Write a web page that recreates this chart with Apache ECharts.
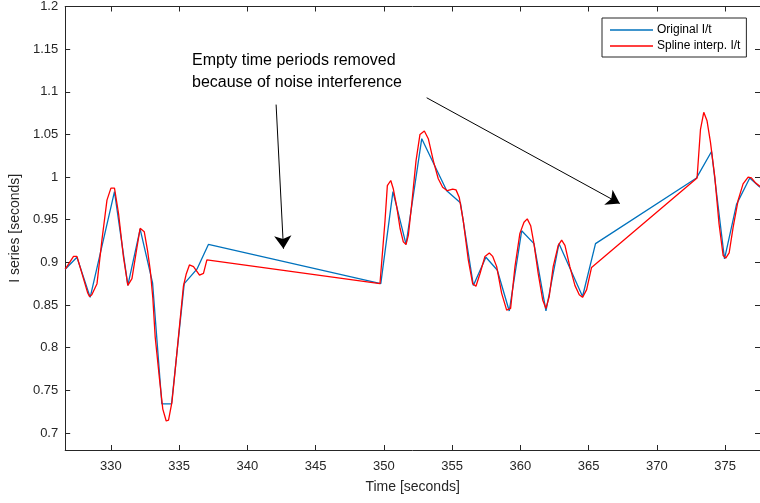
<!DOCTYPE html>
<html>
<head>
<meta charset="utf-8">
<title>I series vs time</title>
<script src="https://cdn.jsdelivr.net/npm/echarts@6/dist/echarts.min.js"></script>
<style>
  html, body { margin: 0; padding: 0; background: #fff; }
  #chart { width: 760px; height: 503px; }
</style>
</head>
<body>
<div id="chart"></div>
<script>
// original samples (blue)
const origTime = [326.65, 327.51, 328.48, 330.26, 331.24, 332.14, 333.05, 333.73, 334.44, 335.37,
  336.3, 337.14, 349.77, 350.66, 351.62, 352.77, 354.6, 355.6, 356.55, 357.47, 358.3, 359.18,
  360.09, 360.99, 361.87, 362.82, 364.55, 365.5, 372.9, 374.0, 374.95, 375.83, 376.8, 377.55];
const origValue = [0.892, 0.906, 0.859, 0.983, 0.873, 0.939, 0.876, 0.734, 0.734, 0.875,
  0.892, 0.921, 0.875, 0.983, 0.921, 1.045, 0.984, 0.970, 0.873, 0.906, 0.891, 0.843,
  0.937, 0.922, 0.843, 0.922, 0.860, 0.922, 0.999, 1.030, 0.904, 0.968, 0.999, 0.988];

// spline interpolated samples (red)
const splineTime = [326.65, 327.26, 327.51, 328.3, 328.43, 328.6, 328.98, 329.34, 329.71, 330.0,
  330.26, 330.56, 330.92, 331.24, 331.54, 331.85, 332.14, 332.44, 332.68, 332.88, 333.07, 333.24,
  333.56, 333.8, 334.05, 334.22, 334.47, 334.71, 335.07, 335.31, 335.51, 335.75, 336.05, 336.49,
  336.78, 337.03, 349.71, 350.08, 350.25, 350.5, 350.69, 350.94, 351.18, 351.42, 351.62, 351.79,
  352.04, 352.35, 352.64, 352.96, 353.25, 353.62, 353.98, 354.3, 354.64, 355.04, 355.28, 355.52,
  355.81, 356.18, 356.5, 356.74, 357.04, 357.4, 357.72, 357.97, 358.26, 358.62, 358.99, 359.28,
  359.6, 359.96, 360.26, 360.5, 360.75, 360.99, 361.3, 361.63, 361.87, 362.11, 362.4, 362.77,
  363.02, 363.26, 363.62, 363.99, 364.31, 364.55, 364.85, 365.21, 372.94, 373.19, 373.43, 373.67,
  373.92, 374.24, 374.55, 374.85, 375.04, 375.29, 375.58, 375.95, 376.31, 376.68, 376.92, 377.24,
  377.55];
const splineValue = [0.892, 0.907, 0.907, 0.864, 0.860, 0.862, 0.875, 0.926, 0.973, 0.987,
  0.987, 0.957, 0.906, 0.873, 0.881, 0.912, 0.940, 0.936, 0.914, 0.891, 0.858, 0.813,
  0.763, 0.728, 0.714, 0.715, 0.736, 0.774, 0.833, 0.872, 0.886, 0.897, 0.895, 0.885,
  0.887, 0.903, 0.875, 0.949, 0.990, 0.996, 0.986, 0.965, 0.940, 0.924, 0.921, 0.932,
  0.969, 1.019, 1.050, 1.054, 1.045, 1.019, 0.998, 0.988, 0.984, 0.986, 0.985, 0.976,
  0.949, 0.903, 0.875, 0.872, 0.887, 0.907, 0.911, 0.907, 0.895, 0.864, 0.844, 0.846,
  0.895, 0.934, 0.947, 0.951, 0.943, 0.922, 0.887, 0.856, 0.846, 0.860, 0.895, 0.920,
  0.926, 0.920, 0.895, 0.873, 0.862, 0.859, 0.868, 0.894, 0.999, 1.056, 1.076, 1.066,
  1.041, 1.000, 0.945, 0.908, 0.905, 0.911, 0.941, 0.973, 0.992, 1.000, 0.999, 0.993,
  0.989];

// tick labels
const xTicks = [330, 335, 340, 345, 350, 355, 360, 365, 370, 375];
const yTicks = [0.7, 0.75, 0.8, 0.85, 0.9, 0.95, 1, 1.05, 1.1, 1.15, 1.2];

// annotation arrows: [startTime, startValue, endTime, endValue]
const arrow1 = [342.1, 1.085, 342.64, 0.916];
const arrow2 = [353.13, 1.093, 367.28, 0.969];

const FONT = '"Liberation Sans", Arial, sans-serif';
const AXIS_COLOR = '#262626';
// thin bar used as legend icon (keeps aspect, so it stays a line)
const LINE_ICON = 'path://M0,0H43V1.3H0Z';

// pair up x/y arrays for the line series
function zip(xs, ys) {
  return xs.map((x, i) => [x, ys[i]]);
}

// one axis of the box, ticks pointing inwards
function boxAxis(extra) {
  return Object.assign({
    type: 'value',
    scale: true,
    axisLine: { show: true, onZero: false, lineStyle: { color: AXIS_COLOR, width: 1 } },
    axisTick: { show: true, inside: true, length: 5, lineStyle: { color: AXIS_COLOR } },
    splitLine: { show: false },
    axisLabel: { show: false }
  }, extra);
}

const chart = echarts.init(document.getElementById('chart'), null, { renderer: 'canvas' });

const option = {
  animation: false,
  backgroundColor: '#fff',
  grid: { left: 65, right: 0, top: 5, bottom: 53 },
  xAxis: [
    boxAxis({
      min: 326.65, max: 377.55, position: 'bottom',
      axisTick: { show: true, inside: true, length: 5, customValues: xTicks, lineStyle: { color: AXIS_COLOR } },
      axisLabel: { show: true, customValues: xTicks, color: AXIS_COLOR, fontSize: 13, fontFamily: FONT, margin: 10 },
      name: 'Time [seconds]', nameLocation: 'middle', nameGap: 30,
      nameTextStyle: { color: AXIS_COLOR, fontSize: 14, fontFamily: FONT }
    }),
    boxAxis({
      min: 326.65, max: 377.55, position: 'top',
      axisTick: { show: true, inside: true, length: 5, customValues: xTicks, lineStyle: { color: AXIS_COLOR } }
    })
  ],
  yAxis: [
    boxAxis({
      min: 0.68, max: 1.2, position: 'left',
      axisTick: { show: true, inside: true, length: 5, customValues: yTicks, lineStyle: { color: AXIS_COLOR } },
      axisLabel: { show: true, customValues: yTicks, color: AXIS_COLOR, fontSize: 13, fontFamily: FONT, margin: 7 },
      name: 'I series [seconds]', nameLocation: 'middle', nameGap: 38,
      nameTextStyle: { color: AXIS_COLOR, fontSize: 14, fontFamily: FONT }
    }),
    boxAxis({
      min: 0.68, max: 1.2, position: 'right',
      axisTick: { show: true, inside: true, length: 5, customValues: yTicks, lineStyle: { color: AXIS_COLOR } }
    })
  ],
  legend: {
    data: [
      { name: 'Original I/t', icon: LINE_ICON },
      { name: 'Spline interp. I/t', icon: LINE_ICON }
    ],
    orient: 'vertical',
    left: 602,
    top: 18,
    padding: [6, 6, 5, 8],
    itemGap: 4,
    itemWidth: 43,
    itemHeight: 14,
    backgroundColor: '#fff',
    borderColor: AXIS_COLOR,
    borderWidth: 1,
    borderRadius: 0,
    textStyle: { color: '#000', fontSize: 12, fontFamily: FONT, padding: [0, 0, 0, -1] }
  },
  graphic: [{
    type: 'text',
    left: 192,
    top: 50,
    silent: true,
    style: {
      text: 'Empty time periods removed\nbecause of noise interference',
      fill: '#000',
      font: '16px ' + FONT,
      lineHeight: 22
    }
  }],
  series: [
    {
      name: 'Original I/t',
      type: 'line',
      data: zip(origTime, origValue),
      showSymbol: false,
      symbol: 'none',
      lineStyle: { color: '#0072BD', width: 1.3 },
      itemStyle: { color: '#0072BD' },
      z: 2,
      // the two annotation arrows
      markLine: {
        silent: true,
        symbol: ['none', 'arrow'],
        symbolSize: 13,
        label: { show: false },
        itemStyle: { color: '#000' },
        lineStyle: { color: '#000', width: 1, type: 'solid' },
        data: [
          [{ coord: [arrow1[0], arrow1[1]] }, { coord: [arrow1[2], arrow1[3]] }],
          [{ coord: [arrow2[0], arrow2[1]] }, { coord: [arrow2[2], arrow2[3]] }]
        ]
      }
    },
    {
      name: 'Spline interp. I/t',
      type: 'line',
      data: zip(splineTime, splineValue),
      showSymbol: false,
      symbol: 'none',
      lineStyle: { color: '#FF0000', width: 1.3 },
      itemStyle: { color: '#FF0000' },
      z: 3
    }
  ]
};

chart.setOption(option);
</script>
</body>
</html>
